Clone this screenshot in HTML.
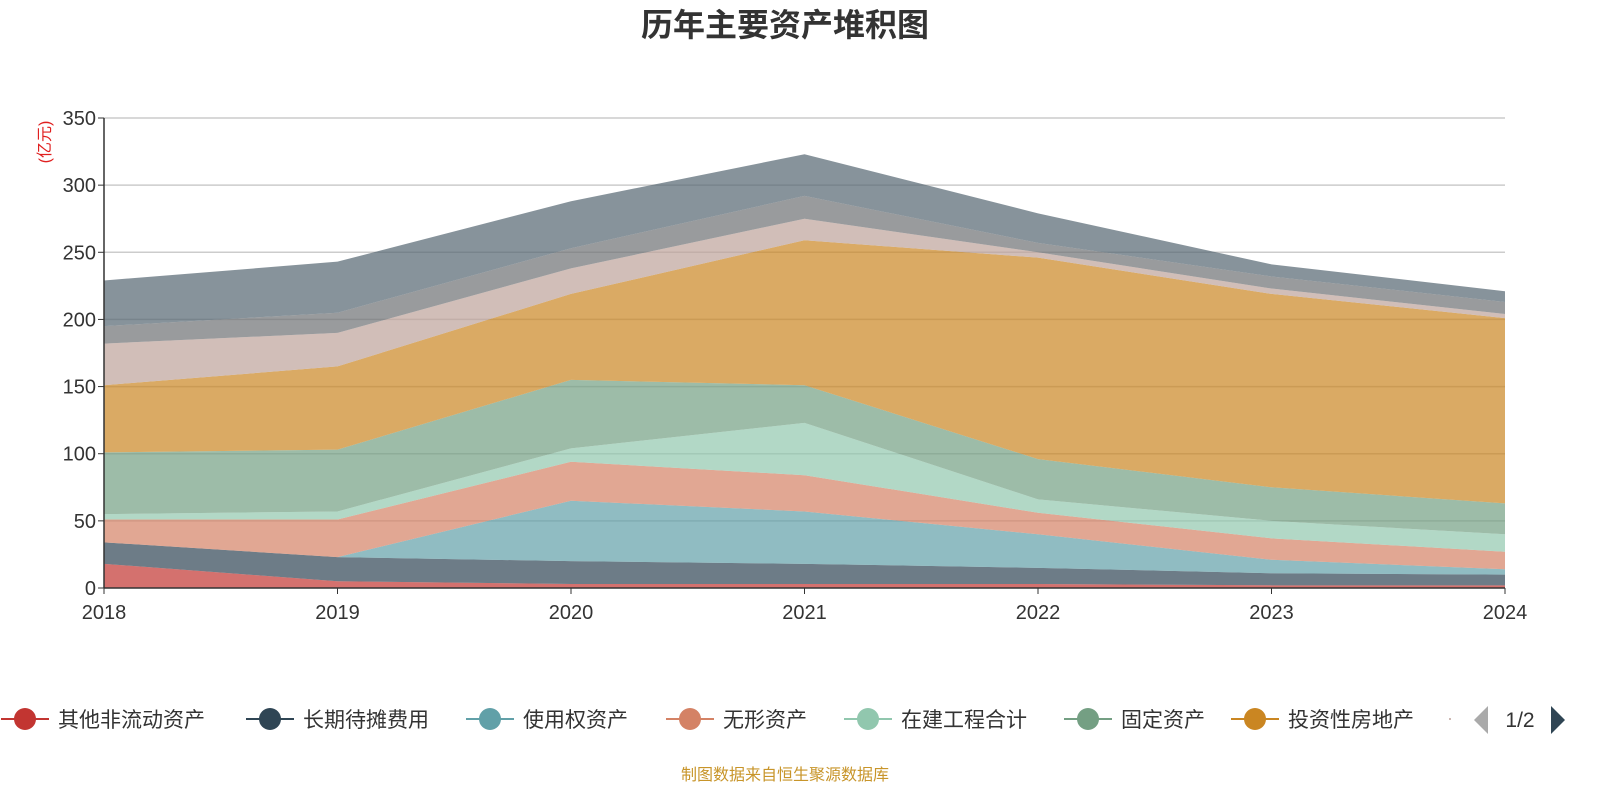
<!DOCTYPE html>
<html><head><meta charset="utf-8">
<style>
html,body{margin:0;padding:0;background:#fff;}
svg{display:block;font-family:"Liberation Sans","Noto Sans CJK SC",sans-serif;}
</style></head>
<body>
<svg id="chart" width="1600" height="800" viewBox="0 0 1600 800">
<text x="785" y="36" text-anchor="middle" font-size="32" font-weight="bold" fill="#333">历年主要资产堆积图</text>
<text transform="translate(50,142) rotate(-90)" text-anchor="middle" font-size="16" fill="#e02020">(亿元)</text>
<g id="grid"></g>
<g id="areas"></g>
<g id="axes"></g>
<g id="legend"></g>
<path d="M1488 706 L1474 720 L1488 734 Z" fill="#aaa"/>
<text x="1520" y="727" text-anchor="middle" font-size="21" fill="#333">1/2</text>
<path d="M1551 706 L1565 720 L1551 734 Z" fill="#2f4554"/>
<text x="785" y="780" text-anchor="middle" font-size="16" fill="#c8952a">制图数据来自恒生聚源数据库</text>
</svg>
<script>
const years = ['2018','2019','2020','2021','2022','2023','2024'];
const yTicks = [0,50,100,150,200,250,300,350];
const names = ['其他非流动资产','长期待摊费用','使用权资产','无形资产','在建工程合计','固定资产','投资性房地产','其他','其他2','其他3'];
const s1 = [18,5,3,3,3,2,2];
const s2 = [16,18,17,15,12,9,8];
const s3 = [0,0,45,39,25,10,4];
const s4 = [17,28,29,27,16,16,13];
const s5 = [4,6,10,39,10,13,13];
const s6 = [46,46,51,28,30,25,23];
const s7 = [50,62,64,108,150,144,138];
const s8 = [31,25,19,16,4,4,3];
const s9 = [13,15,15,17,7,9,9];
const s10 = [34,38,35,31,22,9,8];
const series = [s1,s2,s3,s4,s5,s6,s7,s8,s9,s10];
const colors = ['#c23531','#2f4554','#61a0a8','#d48265','#91c7ae','#749f83','#ca8622','#bda29a','#6e7074','#546570'];
const NS='http://www.w3.org/2000/svg';
const x0=104,x1=1505,y0=588,y1=118,yMax=350;
const xs=i=>x0+(x1-x0)*i/(years.length-1);
const ys=v=>y0-(y0-y1)*v/yMax;
function mk(tag,attrs,parent){const e=document.createElementNS(NS,tag);for(const k in attrs)e.setAttribute(k,attrs[k]);parent.appendChild(e);return e;}
const grid=document.getElementById('grid'),axes=document.getElementById('axes'),areas=document.getElementById('areas'),legend=document.getElementById('legend');
yTicks.forEach(t=>{
  if(t>0){const l=mk('line',{x1:x0,x2:x1,y1:ys(t),y2:ys(t),stroke:'#ccc','stroke-width':1.5},grid);
  
  }
  const tk=mk('line',{x1:x0-6,x2:x0,y1:ys(t),y2:ys(t),stroke:'#333'},axes);
  
  
  const tx=mk('text',{x:x0-8,y:ys(t)+7,'text-anchor':'end','font-size':20,fill:'#333'},axes);
  tx.textContent=t;
  
  
});
let base=years.map(()=>0);
series.forEach((s,k)=>{
  const top=base.map((b,i)=>b+s[i]);
  let d='M'+years.map((_,i)=>xs(i)+' '+ys(top[i])).join(' L');
  for(let i=years.length-1;i>=0;i--)d+=' L'+xs(i)+' '+ys(base[i]);
  d+=' Z';
  const p=mk('path',{d:d,fill:colors[k],'fill-opacity':0.7},areas);
  
  
  base=top;
});
const ya=mk('line',{x1:x0,x2:x0,y1:y1,y2:y0,stroke:'#333','stroke-width':1.5},axes);


const xa=mk('line',{x1:x0,x2:x1,y1:y0,y2:y0,stroke:'#333','stroke-width':1.5},axes);


years.forEach((y,i)=>{
  const tk=mk('line',{x1:xs(i),x2:xs(i),y1:y0,y2:y0+6,stroke:'#333'},axes);
  
  
  const tx=mk('text',{x:xs(i),y:y0+31,'text-anchor':'middle','font-size':20,fill:'#333'},axes);
  tx.textContent=y;
  
  
});
const lx=[25,270,490,690,868,1088,1255];
for(let k=0;k<7;k++){
  const g=mk('g',{},legend);
  
  
  mk('line',{x1:lx[k]-24,x2:lx[k]+24,y1:719,y2:719,stroke:colors[k],'stroke-width':2},g);
  mk('circle',{cx:lx[k],cy:719,r:11,fill:colors[k]},g);
  const t=mk('text',{x:lx[k]+33,y:727,'font-size':21,fill:'#333'},g);
  t.textContent=names[k];
}
mk('circle',{cx:1450,cy:719,r:1,fill:'#bda29a'},legend);
</script>
</body></html>
